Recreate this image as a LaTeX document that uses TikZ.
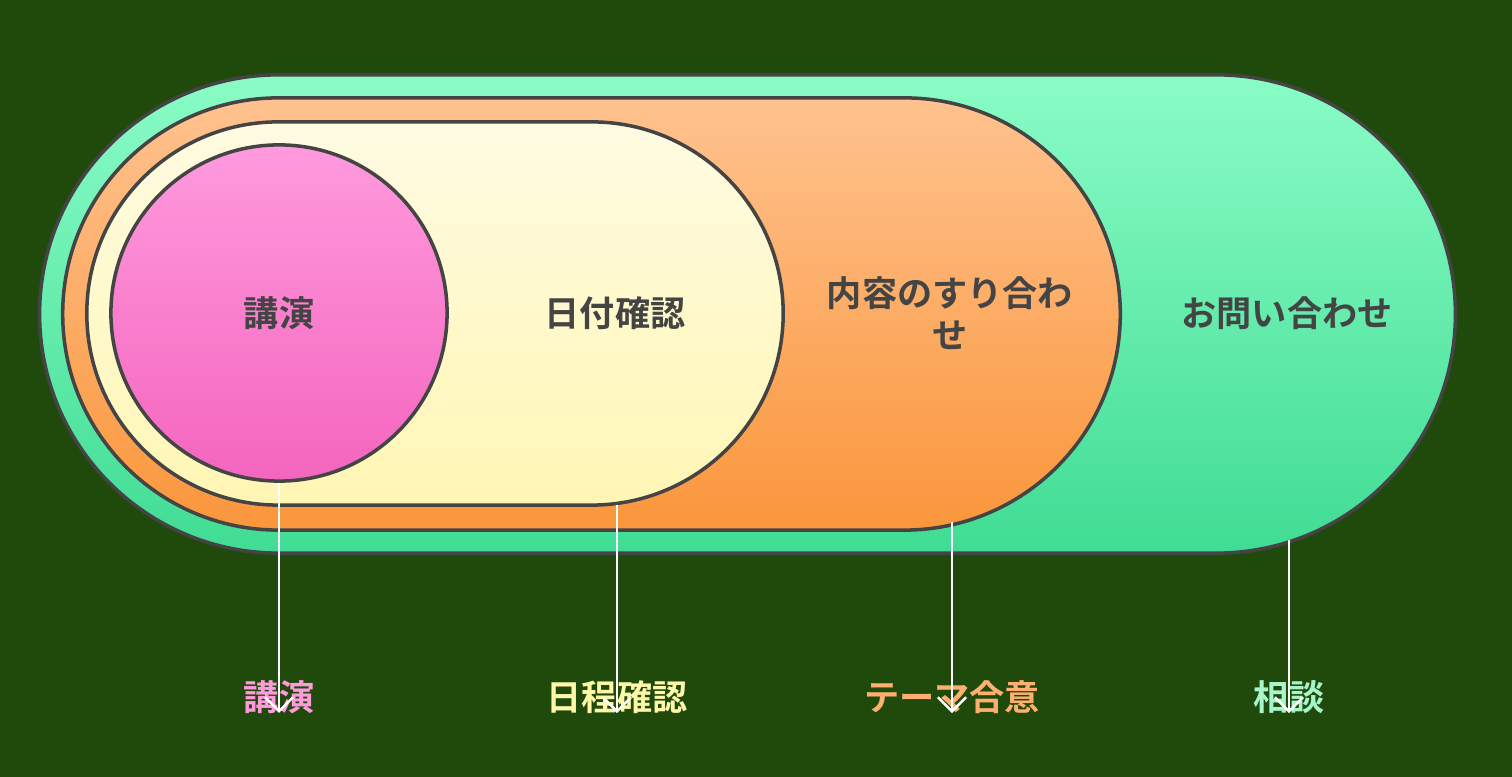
\documentclass[tikz,border=0pt]{standalone}
\usepackage{fontspec}
\setmainfont{Noto Sans CJK JP}[BoldFont={* Bold}]
\usetikzlibrary{shapes.misc,arrows.meta}
\definecolor{bgdark}{HTML}{1F4A0B}
\definecolor{edgegray}{HTML}{444444}
\definecolor{greentop}{HTML}{8AFCC6}
\definecolor{greenbot}{HTML}{40DC94}
\definecolor{orangetop}{HTML}{FFC28E}
\definecolor{orangebot}{HTML}{FA963C}
\definecolor{yellowtop}{HTML}{FFFBE2}
\definecolor{yellowbot}{HTML}{FFF6B4}
\definecolor{pinktop}{HTML}{FF9ADD}
\definecolor{pinkbot}{HTML}{F465BE}
\definecolor{pinklbl}{HTML}{FF9ADD}
\definecolor{yellowlbl}{HTML}{FFF7A8}
\definecolor{orangelbl}{HTML}{FFB070}
\definecolor{greenlbl}{HTML}{A8F5CC}
\begin{document}
\begin{tikzpicture}[x=0.01cm,y=-0.01cm,
	layer/.style={rounded rectangle, draw=edgegray, line width=1pt, inner sep=0pt},
	inlabel/.style={font=\fontsize{10}{12}\selectfont\bfseries, text=edgegray, align=center},
	outlabel/.style={font=\fontsize{10}{12}\selectfont\bfseries},
	downarrow/.style={draw=white, line width=0.7pt, -{Straight Barb[length=4pt,width=8pt]}}]
	\fill[bgdark] (0,0) rectangle (1512,777);
	% nested layers
	\node (outer) at (747.5,314) [layer, minimum width=14.15cm, minimum height=4.78cm, top color=greentop, bottom color=greenbot] {};
	\node (mid) at (591.5,314) [layer, minimum width=10.57cm, minimum height=4.32cm, top color=orangetop, bottom color=orangebot] {};
	\node (inner) at (435,313.5) [layer, minimum width=6.96cm, minimum height=3.83cm, top color=yellowtop, bottom color=yellowbot] {};
	\node (core) at (279,313) [circle, draw=edgegray, line width=1pt, inner sep=0pt, minimum size=3.36cm, top color=pinktop, bottom color=pinkbot] {};
	% labels inside
	\node (tcore) at (279,313) [inlabel] {講演};
	\node (tinner) at (615,313) [inlabel] {日付確認};
	\node (tmid) at (950,313) [inlabel] {内容のすり合わ\\せ};
	\node (touter) at (1287,313) [inlabel] {お問い合わせ};
	% labels below
	\node (bcore) at (279,697) [outlabel, text=pinklbl] {講演};
	\node (binner) at (617,697) [outlabel, text=yellowlbl] {日程確認};
	\node (bmid) at (952,697) [outlabel, text=orangelbl] {テーマ合意};
	\node (bouter) at (1289,697) [outlabel, text=greenlbl] {相談};
	% arrow ends on the layer edges
	\coordinate (einner) at (617,505);
	\coordinate (emid) at (952,522);
	\coordinate (eouter) at (1289,540);
	\draw[downarrow] (core.south) -- ([yshift=-0.45cm]bcore.north);
	\draw[downarrow] (einner) -- ([yshift=-0.45cm]binner.north);
	\draw[downarrow] (emid) -- ([yshift=-0.45cm]bmid.north);
	\draw[downarrow] (eouter) -- ([yshift=-0.45cm]bouter.north);
\end{tikzpicture}
\end{document}
